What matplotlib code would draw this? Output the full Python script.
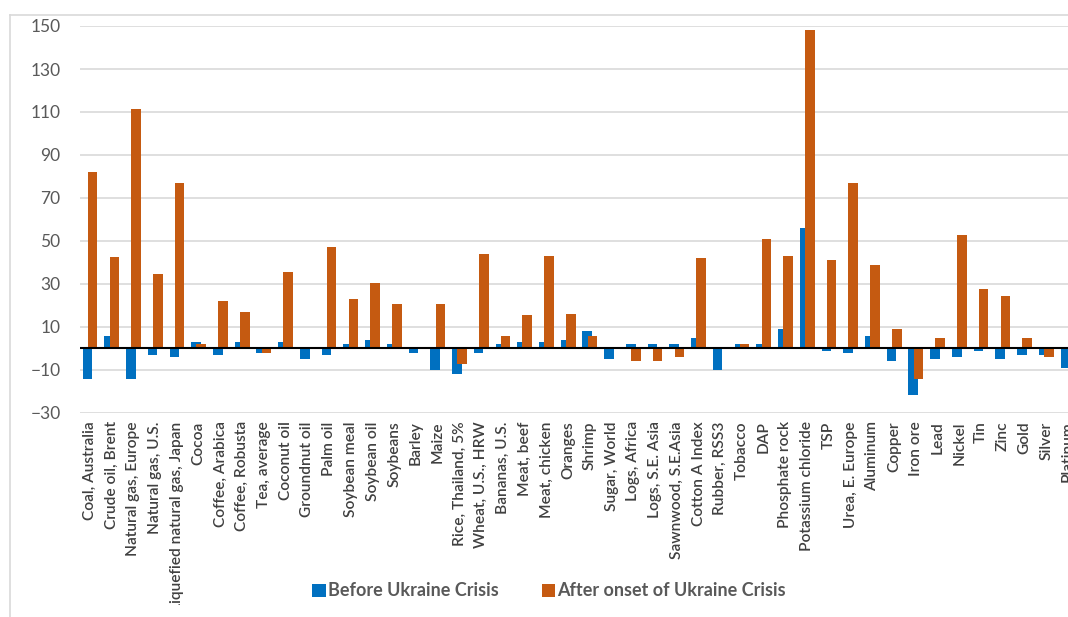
import matplotlib
matplotlib.use("Agg")
import matplotlib.pyplot as plt
import numpy as np
from matplotlib.lines import Line2D
from matplotlib.transforms import Bbox, TransformedBbox

categories = ["Coal, Australia", "Crude oil, Brent", "Natural gas, Europe", "Natural gas, U.S.",
              "Liquefied natural gas, Japan", "Cocoa", "Coffee, Arabica", "Coffee, Robusta",
              "Tea, average", "Coconut oil", "Groundnut oil", "Palm oil", "Soybean meal",
              "Soybean oil", "Soybeans", "Barley", "Maize", "Rice, Thailand, 5%",
              "Wheat, U.S., HRW", "Bananas, U.S.", "Meat, beef", "Meat, chicken", "Oranges",
              "Shrimp", "Sugar, World", "Logs, Africa", "Logs, S.E. Asia", "Sawnwood, S.E.Asia",
              "Cotton A Index", "Rubber, RSS3", "Tobacco", "DAP", "Phosphate rock",
              "Potassium chloride", "TSP", "Urea, E. Europe", "Aluminum", "Copper", "Iron ore",
              "Lead", "Nickel", "Tin", "Zinc", "Gold", "Silver", "Platinum"]

before = [-14, 6, -14, -3, -4, 3, -3, 3, -2, 3, -5, -3, 2, 4, 2, -2, -10, -12, -2, 2,
          3, 3, 4, 8, -5, 2, 2, 2, 5, -10, 2, 2, 9, 56, -1, -2, 6, -6, -21.5, -5,
          -4, -1, -5, -3, -3, -9]
after = [82, 42.5, 111.5, 34.5, 77, 2, 22, 17, -2, 35.5, 0, 47, 23, 30.5, 20.5, 0, 20.5, -7, 44, 6,
         15.5, 43, 16, 6, 0, -6, -6, -4, 42, 0, 2, 51, 43, 148, 41, 77, 39, 9, -14, 5,
         53, 27.5, 24.5, 5, -4, 0]

yticks = [-30, -10, 10, 30, 50, 70, 90, 110, 130, 150]
series_names = ["Before Ukraine Crisis", "After onset of Ukraine Crisis"]

BLUE = "#0070C0"
ORANGE = "#C55A11"
W, H = 1068, 617

plt.rcParams['font.family'] = ['Lato', 'DejaVu Sans']

fig = plt.figure(figsize=(W / 100, H / 100), dpi=100)
ax = fig.add_axes([80 / W, (H - 413) / H, (W - 80) / W, (413 - 26) / H])

x = np.arange(len(categories))
bw = 0.44
off = 0.12
ax.bar(x - off, before, width=bw, color=BLUE, label=series_names[0], zorder=2)
ax.bar(x + off, after, width=bw, color=ORANGE, label=series_names[1], zorder=3)
ax.axhline(0, color="black", lw=1.5, zorder=4)

ax.set_ylim(-30, 150)
ax.set_xlim(-0.46, 44.95)
ax.set_yticks(yticks)
ax.grid(axis="y", color="#D9D9D9", lw=1.2, zorder=0)
ax.set_axisbelow(True)
for s in ax.spines.values():
    s.set_visible(False)
ax.tick_params(axis="y", length=0, pad=14, labelsize=12.5, labelcolor="#595959")
ax.tick_params(axis="x", length=0, pad=6)
ax.set_xticks(x)
ax.set_xticklabels(categories, rotation=90, ha="center", va="top",
                   fontsize=11.2, color="#404040", fontweight="semibold")

# Excel clips the over-long category label just above the legend
clip = TransformedBbox(Bbox([[0, (H - 605) / H], [1, 1]]), fig.transFigure)
fig.canvas.draw()
for lab in ax.get_xticklabels():
    lab.set_clip_box(clip)
    lab.set_clip_on(True)

# chart border
fig.add_artist(Line2D([9.5 / W, 9.5 / W], [0, (H - 15) / H], color="#D9D9D9", lw=1.2,
                      transform=fig.transFigure))
fig.add_artist(Line2D([9.5 / W, 1], [(H - 15) / H, (H - 15) / H], color="#D9D9D9", lw=1.2,
                      transform=fig.transFigure))

fig.legend(loc="center", bbox_to_anchor=(549 / W, (H - 591) / H), ncol=2, frameon=False,
           handlelength=0.75, handleheight=0.75, handletextpad=0.1, columnspacing=2.4,
           prop={"size": 13, "weight": "bold"}, labelcolor="#595959")

fig.savefig("out.png", dpi=100)
